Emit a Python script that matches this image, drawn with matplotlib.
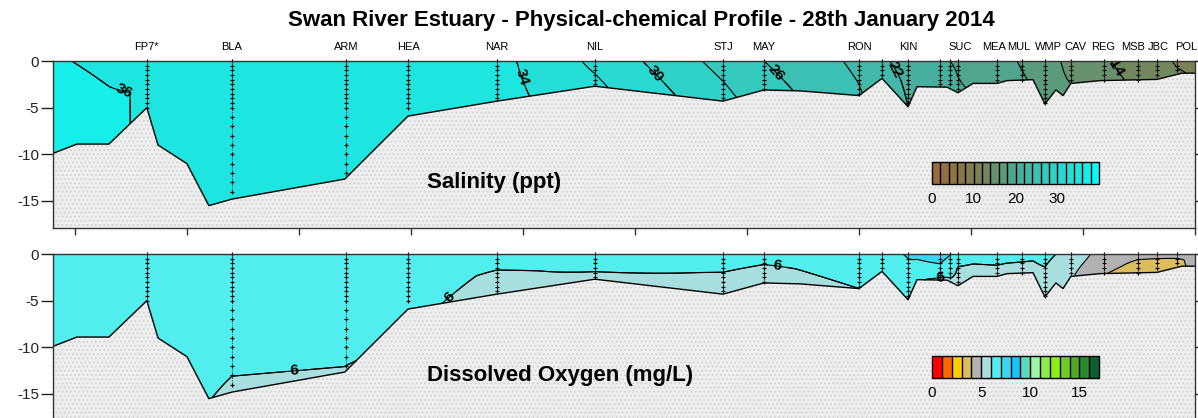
import numpy as np
import matplotlib.pyplot as plt
from matplotlib.colors import ListedColormap, LinearSegmentedColormap
import matplotlib.transforms as mtransforms

plt.rcParams['font.family'] = ['Liberation Sans', 'DejaVu Sans']
plt.rcParams['hatch.color'] = '#d2d2d2'
plt.rcParams['hatch.linewidth'] = 0.8

# distance along the river (km) and bottom depth (m)
bathy_km = [-0.98, 0.09, 1.52, 3.21, 3.71, 5.0, 5.98, 7.01, 12.05, 14.87, 18.84,
            23.21, 28.93, 30.76, 32.37, 35.0, 36.03, 37.19, 37.59, 38.93, 39.42,
            40.09, 41.16, 41.61, 42.77, 43.30, 43.79, 44.11, 44.46, 45.76, 48.30,
            49.42, 50.0]
bathy_depth = [-9.9, -8.9, -8.9, -5.0, -9.0, -11.0, -15.5, -14.8, -12.65, -5.9, -4.3,
               -2.7, -4.3, -3.1, -3.2, -3.7, -1.86, -4.9, -2.75, -2.8, -3.4,
               -2.4, -2.4, -2.1, -2.0, -4.6, -3.1, -3.7, -2.4, -2.1, -1.97,
               -1.3, -1.3]

# sampling stations
station_km = [3.21, 7.01, 12.10, 14.87, 18.84, 23.21, 28.93, 30.76, 35.0, 36.03, 37.19,
              38.62, 39.06, 39.42, 41.16, 42.28, 43.30, 44.46, 45.94, 47.46, 48.30, 49.20]
label_names = ['FP7*', 'BLA', 'ARM', 'HEA', 'NAR', 'NIL', 'STJ', 'MAY', 'RON', 'KIN',
               'SUC', 'MEA', 'MUL', 'WMP', 'CAV', 'REG', 'MSB', 'JBC', 'POL']
label_km = [3.21, 7.01, 12.10, 14.87, 18.84, 23.21, 28.93, 30.76, 35.0, 37.19,
            39.51, 41.02, 42.14, 43.44, 44.64, 45.89, 47.23, 48.35, 49.60]

# profiles (domain edges + stations): surface / mid-depth / bottom values
prof_km = [-0.98] + station_km + [50.0]
sal_top = [36.05, 35.8, 35.5, 35.2, 35.0, 34.6, 31.6, 27.3, 26.0, 23.6, 22.2, 21.5,
           20.3, 20.0, 19.8, 18.8, 17.8, 16.6, 15.6, 14.2, 13.2, 12.6, 11.8, 11.4]
sal_mid = [36.23, 35.95, 35.55, 35.25, 35.05, 34.7, 32.0, 28.0, 26.4, 23.9, 22.5, 21.8,
           20.6, 20.3, 20.0, 19.0, 18.0, 16.8, 15.8, 14.4, 13.4, 12.8, 12.0, 11.6]
sal_bot = [36.14, 35.97, 35.6, 35.3, 35.1, 34.8, 32.4, 28.6, 26.8, 24.2, 22.8, 22.0,
           20.8, 20.5, 20.2, 19.2, 18.3, 17.0, 16.0, 14.6, 13.6, 13.0, 12.2, 11.8]
do_top = [6.7, 6.7, 6.8, 6.8, 6.8, 6.6, 6.5, 6.5, 6.4, 6.5, 6.8, 7.05,
          7.3, 7.05, 6.4, 6.6, 6.5, 6.3, 5.6, 4.6, 4.3, 4.3, 4.2, 4.2]
do_mid = [6.7, 6.7, 6.5, 6.5, 6.5, 5.85, 6.2, 5.95, 5.85, 6.3, 6.6, 6.8,
          6.9, 6.6, 5.9, 6.0, 5.9, 5.8, 5.3, 4.4, 3.8, 3.7, 3.9, 4.15]
do_bot = [6.6, 6.5, 5.85, 5.95, 6.25, 5.6, 5.7, 5.6, 5.6, 6.0, 6.4, 6.2,
          5.8, 5.8, 5.6, 5.7, 5.7, 5.7, 5.1, 4.05, 3.5, 3.5, 3.9, 4.1]

sal_levels = np.arange(0, 41, 2)
do_levels = np.arange(0, 18, 1)
do_colors = ['#ff0000', '#ff6600', '#ffcc00', '#dcbd5e', '#b2b2b2', '#a8dede',
             '#52eeee', '#38d8f0', '#18c4f8', '#5ad8c0', '#9cf5a0', '#88ec50',
             '#8cf010', '#70cc20', '#50aa28', '#2e8a30', '#0e5e30']
sal_anchor = [0, 8, 14, 20, 26, 32, 36, 40]
sal_anchor_cols = ['#9e6a38', '#86784c', '#6e8a62', '#4aab98', '#38c4b8',
                   '#26dcd4', '#1ce8e2', '#00ffff']

sal_cmap = LinearSegmentedColormap.from_list(
    'sal', list(zip(np.array(sal_anchor) / 40.0, sal_anchor_cols)))
do_cmap = ListedColormap(do_colors)

# sigma-coordinate grid following the bottom
xg = np.linspace(-0.98, 50.0, 800)
fg = np.linspace(0, 1, 90)
X, F = np.meshgrid(xg, fg)
D = np.interp(xg, bathy_km, bathy_depth)
Z = F * D[None, :]


def field(top, mid, bot):
    s = np.interp(xg, prof_km, top)[None, :]
    m = np.interp(xg, prof_km, mid)[None, :]
    b = np.interp(xg, prof_km, bot)[None, :]
    return np.where(F <= 0.5, s + (m - s) * F / 0.5, m + (b - m) * (F - 0.5) / 0.5)


fig = plt.figure(figsize=(11.98, 4.18), dpi=100)
ax1 = fig.add_axes([0.0442, 0.4545, 0.9533, 0.3995])
ax2 = fig.add_axes([0.0442, -0.0072, 0.9533, 0.3995])

S = field(sal_top, sal_mid, sal_bot)
O = field(do_top, do_mid, do_bot)

cf1 = ax1.contourf(X, Z, S, levels=sal_levels, cmap=sal_cmap, zorder=1)
ax1.contour(X, Z, S, levels=np.arange(12, 37, 2), colors='black', linewidths=0.8, zorder=3)
cl1 = ax1.contour(X, Z, S, levels=[14, 22, 26, 30, 34, 36], colors='black',
                  linewidths=0.8, zorder=3)
lab1 = ax1.clabel(cl1, fmt='%d', fontsize=11,
                  manual=[(2.3, -2.5), (20.3, -1.5), (25.7, -1.8), (31.25, -1.3),
                          (36.03, -1.5), (46.07, -1.3)])

cf2 = ax2.contourf(X, Z, O, levels=do_levels, cmap=do_cmap, zorder=1)
ax2.contour(X, Z, O, levels=np.arange(4, 8, 1), colors='black', linewidths=0.8, zorder=3)
cl2 = ax2.contour(X, Z, O, levels=[6], colors='black', linewidths=0.8, zorder=3)
lab2 = ax2.clabel(cl2, fmt='%d', fontsize=11,
                  manual=[(9.82, -13.3), (16.74, -4.6), (31.34, -1.2), (38.62, -2.3)])

for t in list(lab1) + list(lab2):
    t.set_fontweight('bold')

for ax in (ax1, ax2):
    ax.fill_between(bathy_km, bathy_depth, -30, facecolor='#eeeeee', hatch='....',
                    edgecolor='#d2d2d2', linewidth=0, zorder=2)
    ax.plot(bathy_km, bathy_depth, color='black', lw=1, zorder=3)
    for km in station_km:
        d = np.interp(km, bathy_km, bathy_depth)
        zs = np.concatenate([np.arange(0, max(d, -5.0) - 1e-6, -0.5),
                             np.arange(-6, d, -1.0)])
        ax.plot([km] * len(zs), zs, color='black', ls=':', lw=0.6, marker='+',
                ms=3.5, mew=0.8, zorder=4, clip_on=False)
    ax.set_xlim(-0.98, 50.0)
    ax.set_ylim(-17.9, 0)
    ax.set_yticks([0, -5, -10, -15])
    ax.set_yticklabels(['0', '-5', '-10', '-15'])
    ax.set_xticks(np.arange(0, 51, 5))
    ax.set_xticklabels([])
    ax.tick_params(axis='y', left=True, right=True, direction='out', length=9,
                   width=1, labelsize=11, pad=1, colors='#222222')
    ax.tick_params(axis='x', bottom=True, top=False, direction='out', length=5,
                   width=1, colors='#333333')
    for sp in ax.spines.values():
        sp.set_color('#333333')
        sp.set_linewidth(1)
        sp.set_zorder(5)

trans = mtransforms.blended_transform_factory(ax1.transData, ax1.transAxes)
for name, km in zip(label_names, label_km):
    ax1.text(km, 1.084, name, transform=trans, ha='center', va='center', fontsize=8)

fig.text(0.535, 0.952, 'Swan River Estuary - Physical-chemical Profile - 28th January 2014',
         ha='center', va='center', fontsize=16, fontweight='bold')

ax1.text(0.3275, 0.27, 'Salinity (ppt)', transform=ax1.transAxes, ha='left',
         va='center', fontsize=16, fontweight='bold', zorder=6)
ax2.text(0.3275, 0.275, 'Dissolved Oxygen (mg/L)', transform=ax2.transAxes, ha='left',
         va='center', fontsize=16, fontweight='bold', zorder=6)

cax1 = fig.add_axes([0.778, 0.5598, 0.1394, 0.0526])
cb1 = fig.colorbar(cf1, cax=cax1, orientation='horizontal', drawedges=True, ticks=[0, 10, 20, 30])
cax2 = fig.add_axes([0.778, 0.0957, 0.1394, 0.0526])
cb2 = fig.colorbar(cf2, cax=cax2, orientation='horizontal', drawedges=True, ticks=[0, 5, 10, 15])
for cb in (cb1, cb2):
    cb.ax.tick_params(length=0, labelsize=11, pad=6)
    cb.outline.set_linewidth(1)
    cb.dividers.set_linewidth(1)

fig.savefig('out.png', dpi=100)
